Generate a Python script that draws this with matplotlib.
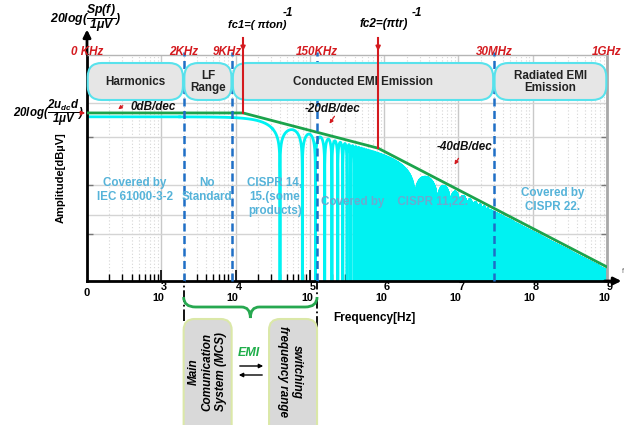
import numpy as np
import matplotlib
matplotlib.use('Agg')
import matplotlib.pyplot as plt
import matplotlib.transforms as mtransforms
from matplotlib.patches import FancyBboxPatch, PathPatch
from matplotlib.path import Path
from matplotlib.ticker import FixedLocator, NullFormatter

plt.rcParams['font.family'] = ['Liberation Sans', 'DejaVu Sans']
plt.rcParams['mathtext.fontset'] = 'custom'
plt.rcParams['mathtext.rm'] = 'Liberation Sans:bold:italic'
plt.rcParams['mathtext.it'] = 'Liberation Sans:bold:italic'
plt.rcParams['mathtext.bf'] = 'Liberation Sans:bold:italic'
plt.rcParams['mathtext.sf'] = 'Liberation Sans:bold:italic'
plt.rcParams['agg.path.chunksize'] = 20000

# ---------------- data ----------------
f_min, f_max = 1e2, 1e9
decade_exponents = [3, 4, 5, 6, 7, 8, 9]
origin_label = '0'
band_edge_hz = [2e3, 9e3, 1.25e5, 3e7]
band_edge_labels = ['2KHz', '9KHz', '150KHz', '30MHz']
end_label_hz = [1e2, 1e9]
end_labels = ['0 KHz', '1GHz']
box_edge_hz = [1e2, 2e3, 9e3, 3e7, 1e9]
band_names = ['Harmonics', 'LF\nRange', 'Conducted EMI Emission', 'Radiated EMI\nEmission']
fc1_hz = 12.6e3
fc2_hz = 8.3e5
env_f = [1e2, fc1_hz, fc2_hz, 1e9]
env_db = [0.0, 0.0, -36.5, -159.5]
spectrum_offset_db = -4.0
slope_labels = ['0dB/dec', '-20dB/dec', '-40dB/dec']
standard_labels = ['Covered by\nIEC 61000-3-2', 'No\nStandard',
                   'CISPR 14,\n15.(some\nproducts)', 'Covered by    CISPR 11,22.',
                   'Covered by\nCISPR 22.']
y_limits = (-174.0, 60.0)
y_major = [25, -25, -75, -125]
y_minor = [10, -106]

# trapezoidal-pulse spectrum from the corner frequencies read above
ton = 1.0 / (np.pi * fc1_hz)
tr = 1.0 / (np.pi * fc2_hz)
M = 8
n_lobes = int(np.ceil(f_max * ton))
f_lobes = np.arange(1, n_lobes * M + 1) / (M * ton)
f_log = np.logspace(2, 6, 60000)
f = np.union1d(f_log, f_lobes)
f = f[(f >= f_min) & (f <= f_max)]
mag = np.abs(np.sinc(f * ton) * np.sinc(f * tr))
with np.errstate(divide='ignore'):
    s_db = 20 * np.log10(mag)
s_db = np.maximum(s_db, -400) + spectrum_offset_db

# ---------------- figure ----------------
W, H = 627, 425
fig = plt.figure(figsize=(W / 100, H / 100), dpi=100)
pix = mtransforms.Affine2D().scale(1 / 100, -1 / 100).translate(0, H / 100) + fig.dpi_scale_trans


def rect(x0, y0, x1, y1):
    return [x0 / W, 1 - y1 / H, (x1 - x0) / W, (y1 - y0) / H]


ax = fig.add_axes(rect(87, 55, 607, 281))
ax.set_xscale('log')
ax.set_xlim(f_min, f_max)
ax.set_ylim(*y_limits)

red = '#d41a1f'
blue = '#1f6fc6'
green = '#1ba34b'
cyan = '#00f2f2'
tblue = '#55b3d9'


def fx(freq):
    return ax.transData.transform((freq, 0))[0]


# spectrum and envelope
ax.plot(f, s_db, color=cyan, lw=2.0, zorder=2)
ax.plot(env_f, env_db, color=green, lw=2.0, zorder=3, solid_joinstyle='miter')

# axes styling
ax.xaxis.set_major_locator(FixedLocator([10.0 ** e for e in decade_exponents]))
ax.xaxis.set_minor_locator(FixedLocator([k * 10.0 ** e for e in range(2, 9) for k in range(2, 10)]))
ax.xaxis.set_major_formatter(NullFormatter())
ax.xaxis.set_minor_formatter(NullFormatter())
ax.yaxis.set_major_locator(FixedLocator(y_major))
ax.yaxis.set_minor_locator(FixedLocator(y_minor))
ax.yaxis.set_major_formatter(NullFormatter())
ax.yaxis.set_minor_formatter(NullFormatter())
ax.tick_params(axis='x', which='major', direction='in', length=8, width=1.2, color='black', top=False)
ax.tick_params(axis='x', which='minor', direction='in', length=5, width=1.0, color='black', top=False)
ax.tick_params(axis='y', which='major', direction='in', length=4, width=1.0, color='#777777', left=True, right=True)
ax.tick_params(axis='y', which='minor', length=0)
ax.grid(True, which='major', axis='x', color='#c9c9c9', lw=1.0, zorder=0)
ax.grid(True, which='minor', axis='x', color='#d6d6d6', lw=0.8, ls=(0, (1, 2)), zorder=0)
ax.grid(True, which='both', axis='y', color='#d4d4d4', lw=1.0, zorder=0)
ax.set_axisbelow(True)
ax.spines['left'].set_color('black')
ax.spines['left'].set_linewidth(2.0)
ax.spines['bottom'].set_color('black')
ax.spines['bottom'].set_linewidth(2.0)
ax.spines['top'].set_color('#b5b5b5')
ax.spines['top'].set_linewidth(1.0)
ax.spines['right'].set_color('#a9a9a9')
ax.spines['right'].set_linewidth(2.0)

xtr = ax.get_xaxis_transform()
# axis arrows
ax.annotate('', xy=(0, 1.125), xycoords='axes fraction', xytext=(0, 0.99),
            arrowprops=dict(arrowstyle='-|>', color='black', lw=2.0, mutation_scale=11),
            annotation_clip=False, zorder=8)
ax.annotate('', xy=(1.033, 0), xycoords='axes fraction', xytext=(0.99, 0),
            arrowprops=dict(arrowstyle='-|>', color='black', lw=2.0, mutation_scale=11),
            annotation_clip=False, zorder=8)
ax.text(1.03, 0.04, 'f', transform=ax.transAxes, fontsize=5, color='#666666', ha='center', va='center')

# x tick labels (exponent above "10")
for e in decade_exponents:
    tb = mtransforms.offset_copy(xtr, fig=fig, x=-3, y=0, units='dots')
    te = mtransforms.offset_copy(xtr, fig=fig, x=3, y=0, units='dots')
    ax.text(10.0 ** e, -0.074, '10', transform=tb, ha='center', va='center',
            fontsize=7.8, fontweight='bold', clip_on=False)
    ax.text(10.0 ** e, -0.028, str(e), transform=te, ha='center', va='center',
            fontsize=7.8, fontweight='bold', clip_on=False)
ax.text(f_min, -0.053, origin_label, transform=xtr, ha='center', va='center',
        fontsize=8, fontweight='bold', clip_on=False)

# band edges (blue dashed) and top frequency labels
for fb, lab in zip(band_edge_hz, band_edge_labels):
    ax.axvline(fb, ymin=0, ymax=1.013, color=blue, lw=1.8, ls=(0, (3.2, 1.8)), clip_on=False, zorder=4)
    off = -5 if lab == '9KHz' else 0
    tt = mtransforms.offset_copy(xtr, fig=fig, x=off, y=0, units='dots')
    ax.text(fb, 1.013, lab, transform=tt, ha='center', va='center', color=red,
            fontsize=8.4, fontweight='bold', fontstyle='italic', clip_on=False, zorder=9)
for fb, lab in zip(end_label_hz, end_labels):
    ax.text(fb, 1.013, lab, transform=xtr, ha='center', va='center', color=red,
            fontsize=8.4, fontweight='bold', fontstyle='italic', clip_on=False, zorder=9)

# band boxes
for f0, f1, name in zip(box_edge_hz[:-1], box_edge_hz[1:], band_names):
    x0 = fx(f0) + 0.7
    x1 = fx(f1) - 0.7
    ax.add_patch(FancyBboxPatch((x0, 63), x1 - x0, 37, boxstyle='round,pad=0,rounding_size=14',
                                transform=pix, fc='#e6e6e6', ec='#58e2ec', lw=1.5,
                                clip_on=False, zorder=5))
    ax.text((x0 + x1) / 2, 82, name, transform=pix, ha='center', va='center', fontsize=8.4,
            fontweight='bold', color='#222222', linespacing=1.1, clip_on=False, zorder=6)

# corner frequency markers
ylo, yhi = y_limits
for fc, lvl in zip([fc1_hz, fc2_hz], [env_db[1], env_db[2]]):
    ax.axvline(fc, ymin=(lvl - ylo) / (yhi - ylo), ymax=1.075, color=red, lw=1.5,
               clip_on=False, zorder=7)
    ax.annotate('', xy=(fc, 1.005), xycoords=xtr, xytext=(fc, 1.045),
                arrowprops=dict(arrowstyle='-|>', color=red, lw=1.2, mutation_scale=7),
                annotation_clip=False, zorder=7)

ax.text(228, 25, 'fc1=( \u03c0ton)', transform=pix, ha='left', va='center', fontsize=8,
        fontweight='bold', fontstyle='italic', clip_on=False)
ax.text(288, 13, '-1', transform=pix, ha='center', va='center', fontsize=8.5,
        fontweight='bold', fontstyle='italic', clip_on=False)
ax.text(360, 24, 'fc2=(\u03c0tr)', transform=pix, ha='left', va='center', fontsize=8.5,
        fontweight='bold', fontstyle='italic', clip_on=False)
ax.text(417, 13, '-1', transform=pix, ha='center', va='center', fontsize=8.5,
        fontweight='bold', fontstyle='italic', clip_on=False)

# y-axis labels
ax.text(50, 18, r'$20log(\dfrac{Sp(f)}{1\mu V})$', transform=pix, ha='left', va='center',
        fontsize=8.8, clip_on=False)
ax.text(84, 113, r'$20log(\dfrac{2u_{dc}d}{1\mu V})$', transform=pix, ha='right', va='center',
        fontsize=8.3, clip_on=False)
ax.annotate('', xy=(88, 113), xycoords=pix, xytext=(79, 113),
            arrowprops=dict(arrowstyle='-|>', color=red, lw=1.0, mutation_scale=6),
            annotation_clip=False, zorder=9)
ax.text(61, 178, 'Amplitude[dB\u00b5V]', transform=pix, rotation=90, ha='center', va='center',
        fontsize=8, fontweight='bold', clip_on=False)

# slope labels with small red arrows
slope_pos = [(153, 107), (333, 109), (465, 147)]
slope_arrows = [((125, 104), (116, 111)), ((336, 114), (328, 126)), ((460, 156), (453, 167))]
for lab, (x, y), (p0, p1) in zip(slope_labels, slope_pos, slope_arrows):
    ax.text(x, y, lab, transform=pix, ha='center', va='center', fontsize=8.4,
            fontweight='bold', fontstyle='italic', color='#111111', clip_on=False, zorder=9)
    ax.annotate('', xy=p1, xycoords=pix, xytext=p0,
                arrowprops=dict(arrowstyle='-|>', color=red, lw=0.9, mutation_scale=5),
                annotation_clip=False, zorder=9)

# standards text
std_pos = [(135, 190), (207, 190), (275, 197), (395, 202), (553, 200)]
std_col = [tblue, tblue, tblue, '#69abcf', tblue]
for lab, (x, y), c in zip(standard_labels, std_pos, std_col):
    ax.text(x, y, lab, transform=pix, ha='center', va='center', fontsize=8.4,
            fontweight='bold', color=c, linespacing=1.25, clip_on=False, zorder=6)

# frequency axis label
ax.text(374, 318, 'Frequency[Hz]', transform=pix, ha='center', va='center', fontsize=8.6,
        fontweight='bold', clip_on=False)

# bracket region below axis
xa = fx(band_edge_hz[0])
xb = fx(band_edge_hz[2])
ax.axvline(band_edge_hz[0], ymin=-0.175, ymax=0, color='black', lw=1.3, ls='-.', clip_on=False, zorder=4)
ax.axvline(band_edge_hz[2], ymin=-0.375, ymax=0, color='black', lw=1.3, ls='-.', clip_on=False, zorder=4)
xm = (xa + xb) / 2
verts = [(xa, 297), (xa, 307), (xa + 12, 307), (xm - 9, 307), (xm, 307), (xm, 318),
         (xm, 307), (xm + 9, 307), (xb - 12, 307), (xb, 307), (xb, 297)]
codes = [Path.MOVETO, Path.CURVE3, Path.CURVE3, Path.LINETO, Path.CURVE3, Path.CURVE3,
         Path.CURVE3, Path.CURVE3, Path.LINETO, Path.CURVE3, Path.CURVE3]
ax.add_patch(PathPatch(Path(verts, codes), transform=pix, fc='none', ec='#27a850', lw=2.0,
                       clip_on=False, zorder=5))

# bottom boxes
for x0, x1 in [(xa, xa + 48), (xb - 48, xb)]:
    ax.add_patch(FancyBboxPatch((x0, 319), x1 - x0, 130, boxstyle='round,pad=0,rounding_size=11',
                                transform=pix, fc='#d9d9d9', ec='#dbe8a8', lw=1.5,
                                clip_on=False, zorder=5))
ax.text(xa + 24, 372, 'Main\nComunication\nSystem (MCS)', transform=pix, rotation=90,
        ha='center', va='center', fontsize=8.5, fontweight='bold', fontstyle='italic',
        linespacing=1.2, clip_on=False, zorder=6)
ax.text(xb - 27, 372, 'switching\nfrequency range', transform=pix, rotation=-90,
        ha='center', va='center', fontsize=8.5, fontweight='bold', fontstyle='italic',
        linespacing=1.2, clip_on=False, zorder=6)
ax.text(249, 353, 'EMI', transform=pix, ha='center', va='center', fontsize=9,
        fontweight='bold', fontstyle='italic', color='#1fae4a', clip_on=False)
ax.annotate('', xy=(266, 366), xycoords=pix, xytext=(237, 366),
            arrowprops=dict(arrowstyle='-|>', color='black', lw=1.0, mutation_scale=6),
            annotation_clip=False)
ax.annotate('', xy=(236, 375), xycoords=pix, xytext=(265, 375),
            arrowprops=dict(arrowstyle='-|>', color='black', lw=1.0, mutation_scale=6),
            annotation_clip=False)

ax.set_xlim(f_min, f_max)
ax.set_ylim(*y_limits)
fig.savefig('out.png', dpi=100)
